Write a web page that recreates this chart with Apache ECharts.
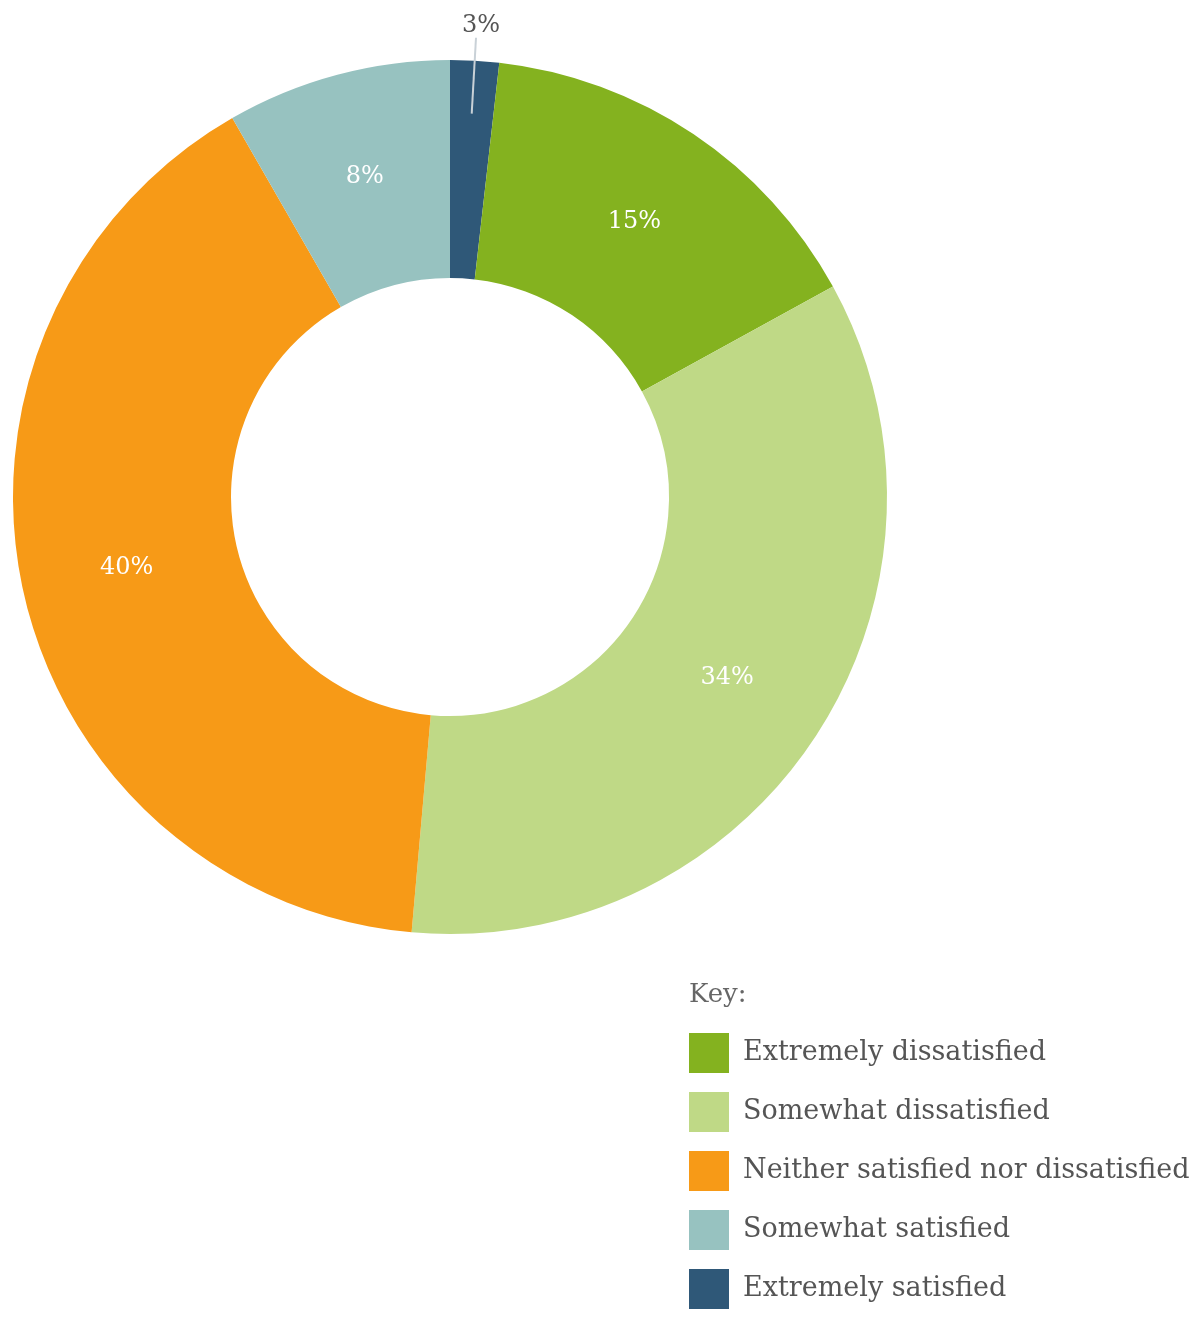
<!DOCTYPE html>
<html>
<head>
<meta charset="utf-8">
<script src="https://cdn.jsdelivr.net/npm/echarts@6/dist/echarts.min.js"></script>
<style>
html,body{margin:0;padding:0;background:#fff;}
#chart{width:1200px;height:1319px;}
</style>
</head>
<body>
<div id="chart"></div>
<script>
// Slices in clockwise drawing order starting at 12 o'clock
const categories = ['Extremely satisfied', 'Extremely dissatisfied', 'Somewhat dissatisfied', 'Neither satisfied nor dissatisfied', 'Somewhat satisfied'];
const values = [1.8, 15.2, 34.4, 40.3, 8.3];
const labelTexts = ['3%', '15%', '34%', '40%', '8%'];
const colors = ['#2f5878', '#84b21f', '#bfd986', '#f79a17', '#97c2c0'];
// Legend ("Key") order
const legendOrder = ['Extremely dissatisfied', 'Somewhat dissatisfied', 'Neither satisfied nor dissatisfied', 'Somewhat satisfied', 'Extremely satisfied'];

const FONT = '"DejaVu Serif", serif';

// Main ring: inside labels for every slice except the tiny one
const mainData = categories.map((name, i) => ({
  name: name, value: values[i], itemStyle: { color: colors[i] },
  label: { show: i !== 0 }
}));

// Transparent overlay ring carrying the outside leader-line label of the tiny slice
const calloutData = categories.map((name, i) => {
  const item = { name: name, value: values[i], itemStyle: { color: 'rgba(0,0,0,0)' }, label: { show: false } };
  if (i === 0) {
    item.label = { show: true, position: 'outside', color: '#555', fontSize: 24, fontFamily: FONT, formatter: p => labelTexts[p.dataIndex] };
    item.labelLine = { show: true, showAbove: true, length: 76, length2: 0, lineStyle: { color: '#c9d1d7', width: 2, opacity: 1 } };
  }
  return item;
});

const chart = echarts.init(document.getElementById('chart'));
chart.setOption({
  animation: false,
  backgroundColor: '#ffffff',
  title: {
    text: 'Key:',
    left: 689, top: 982, padding: 0,
    textStyle: { fontFamily: FONT, fontSize: 26, fontWeight: 'normal', color: '#666' }
  },
  legend: {
    orient: 'vertical',
    left: 689, top: 1033, padding: 0,
    data: legendOrder,
    icon: 'rect',
    itemWidth: 40, itemHeight: 40, itemGap: 19,
    selectedMode: false,
    textStyle: { fontFamily: FONT, fontSize: 27, color: '#555', padding: [0, 0, 0, 9] }
  },
  series: [{
    type: 'pie',
    center: [450, 497],
    radius: [219, 437],
    startAngle: 90,
    clockwise: true,
    avoidLabelOverlap: false,
    label: {
      position: 'inside',
      color: '#ffffff',
      fontFamily: FONT,
      fontSize: 24,
      formatter: p => labelTexts[p.dataIndex]
    },
    labelLine: { show: false },
    data: mainData
  }, {
    type: 'pie',
    silent: true,
    z: 5,
    center: [450, 497],
    radius: [219, 384],
    startAngle: 90,
    clockwise: true,
    avoidLabelOverlap: false,
    labelLine: { show: false },
    labelLayout: function (params) {
      if (params.dataIndex === 0) {
        return { align: 'center', verticalAlign: 'bottom' };
      }
    },
    data: calloutData
  }]
});
</script>
</body>
</html>
